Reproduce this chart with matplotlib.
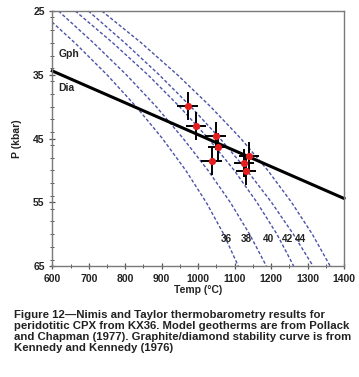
import matplotlib
matplotlib.use("Agg")
import matplotlib.pyplot as plt
from matplotlib.ticker import MultipleLocator

plt.rcParams['font.family'] = ['Liberation Sans', 'DejaVu Sans']

# Nimis & Taylor results (T in C, P in kbar)
temp_c = [971, 994, 1048, 1055, 1037, 1140, 1125, 1131]
pressure_kbar = [39.9, 43.0, 44.6, 46.3, 48.6, 47.7, 48.8, 50.1]
temp_err = [28, 28, 28, 28, 28, 28, 28, 28]
pressure_err = [2.2, 2.2, 2.2, 2.2, 2.2, 2.2, 2.2, 2.2]

# graphite / diamond boundary (Kennedy and Kennedy 1976)
gph_dia_temp = [600, 1400]
gph_dia_p = [34.4, 54.4]

geotherm_p = [25, 30, 35, 40, 45, 50, 55, 60, 65]
geotherm_36 = [566, 662, 750, 830, 902, 966, 1022, 1070, 1110]
geotherm_38 = [617, 713, 803, 885, 959, 1027, 1088, 1141, 1187]
geotherm_40 = [663, 766, 862, 949, 1028, 1099, 1161, 1216, 1262]
geotherm_42 = [699, 799, 893, 980, 1060, 1134, 1201, 1261, 1315]
geotherm_44 = [736, 844, 943, 1034, 1117, 1191, 1256, 1313, 1362]
geotherm_labels = ['36', '38', '40', '42', '44']
label_temp = [1078, 1133, 1194, 1245, 1280]
label_p = 60.8

caption = ("Figure 12\u2014Nimis and Taylor thermobarometry results for\n"
           "peridotitic CPX from KX36. Model geotherms are from Pollack\n"
           "and Chapman (1977). Graphite/diamond stability curve is from\n"
           "Kennedy and Kennedy (1976)")

fig = plt.figure(figsize=(3.59, 3.77), dpi=100)
ax = fig.add_axes([0.1457, 0.2944, 0.8125, 0.6764])

geo_color = '#4b52a8'
for temps in [geotherm_36, geotherm_38, geotherm_40, geotherm_42, geotherm_44]:
    ax.plot(temps, geotherm_p, color=geo_color, lw=1.0, linestyle=(0, (2.4, 1.5)), zorder=1)

ax.plot(gph_dia_temp, gph_dia_p, color='black', lw=2.2, zorder=2, clip_on=False)

ax.errorbar(temp_c, pressure_kbar, xerr=temp_err, yerr=pressure_err, fmt='none',
            ecolor='black', elinewidth=1.4, capsize=0, zorder=3)
ax.plot(temp_c, pressure_kbar, 'o', color='#e41e1e', markersize=5.2,
        markeredgewidth=0, zorder=4)

txt_kw = dict(fontsize=7.5, fontweight='bold', color='#222222')
for lab, t in zip(geotherm_labels, label_temp):
    ax.text(t, label_p, lab, ha='center', va='center', fontsize=7.2,
            fontweight='bold', color='#222222')

ax.text(617, 31.8, 'Gph', ha='left', va='center', **txt_kw)
ax.text(617, 37.1, 'Dia', ha='left', va='center', **txt_kw)

ax.set_xlim(600, 1400)
ax.set_ylim(65, 25)
ax.xaxis.set_major_locator(MultipleLocator(100))
ax.xaxis.set_minor_locator(MultipleLocator(50))
ax.set_yticks([25, 35, 45, 55, 65])
ax.yaxis.set_minor_locator(MultipleLocator(2))

for side in ['left', 'bottom', 'top', 'right']:
    ax.spines[side].set_color('#7a7a7a')
    ax.spines[side].set_linewidth(1.0)

ax.tick_params(which='major', direction='inout', length=5, width=0.9, color='#555555',
               labelsize=7.5, pad=3, labelcolor='#222222')
ax.tick_params(which='minor', direction='inout', length=3, width=0.7, color='#555555')
ax.tick_params(top=False, right=False, which='both')
for lbl in ax.get_xticklabels() + ax.get_yticklabels():
    lbl.set_fontweight('bold')

ax.set_xlabel('Temp (\u00b0C)', fontsize=7.5, fontweight='bold', labelpad=1, color='#222222')
ax.set_ylabel('P (kbar)', fontsize=7.5, fontweight='bold', labelpad=8, color='#222222')

fig.text(14 / 359, 1 - 310 / 377, caption, fontsize=8.2, fontweight='bold',
         ha='left', va='top', linespacing=1.12, color='#222222')

fig.savefig('out.png', dpi=100)
